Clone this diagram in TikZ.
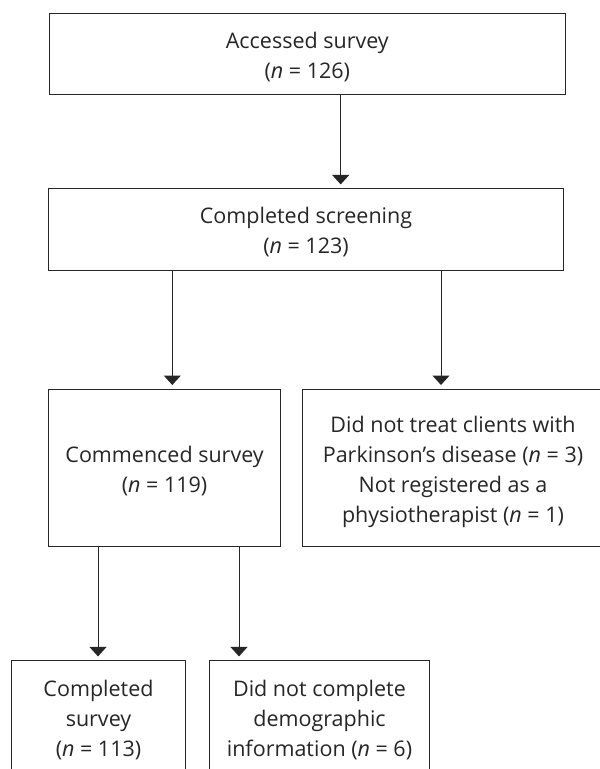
\documentclass[tikz,border=0pt]{standalone}
\usepackage{fontspec}
\setmainfont{Open Sans}
\usetikzlibrary{arrows.meta}
\newcommand\Tst{\rule{0pt}{24pt}}
\newcommand\Bst{\rule[-6pt]{0pt}{6pt}}
\definecolor{ink}{HTML}{262626}
\begin{document}
\begin{tikzpicture}[x=1pt,y=-1pt,
  box/.style={draw=ink, line width=1pt, inner sep=0pt, align=center,
    font=\fontsize{21.5}{30}\selectfont, text=ink},
  arr/.style={draw=ink, line width=1pt, -{Triangle[width=17pt,length=9.5pt]}, shorten >=3.8pt}]
\useasboundingbox (0,0) rectangle (600,769);
\fill[white] (0,0) rectangle (600,769);
\clip (0,0) rectangle (600,769);
\node[box, minimum width=516.7pt, minimum height=81.4pt] (b1) at (307.35,54)
  {\Tst Accessed survey\\(\textit{n} = 126)\Bst};
\node[box, minimum width=515pt, minimum height=81.3pt] (b2) at (306,229.35)
  {\Tst Completed screening\\(\textit{n} = 123)\Bst};
\node[box, minimum width=232pt, minimum height=157.4pt] (b3) at (164.6,468)
  {\Tst Commenced survey\\(\textit{n} = 119)\Bst};
\node[box, minimum width=301.2pt, minimum height=157.4pt] (b4) at (453,468)
  {\Tst Did not treat clients with\\Parkinson’s disease (\textit{n} = 3)\\Not registered as a\\physiotherapist (\textit{n} = 1)\Bst};
\node[box, minimum width=173.6pt, minimum height=112.6pt] (b5) at (98.5,717)
  {\Tst Completed\\survey\\(\textit{n} = 113)\Bst};
\node[box, minimum width=219.6pt, minimum height=112.6pt] (b6) at (319.5,717)
  {\Tst Did not complete\\demographic\\information (\textit{n} = 6)\Bst};
\coordinate (xa) at (340.7,0);
\coordinate (xb) at (172.3,0);
\coordinate (xc) at (441,0);
\coordinate (xd) at (98,0);
\coordinate (xe) at (239,0);
\draw[arr] (b1.south -| xa) -- (b2.north -| xa);
\draw[arr] (b2.south -| xb) -- (b3.north -| xb);
\draw[arr] (b2.south -| xc) -- (b4.north -| xc);
\draw[arr] (b3.south -| xd) -- (b5.north -| xd);
\draw[arr] (b3.south -| xe) -- (b6.north -| xe);
\end{tikzpicture}
\end{document}
